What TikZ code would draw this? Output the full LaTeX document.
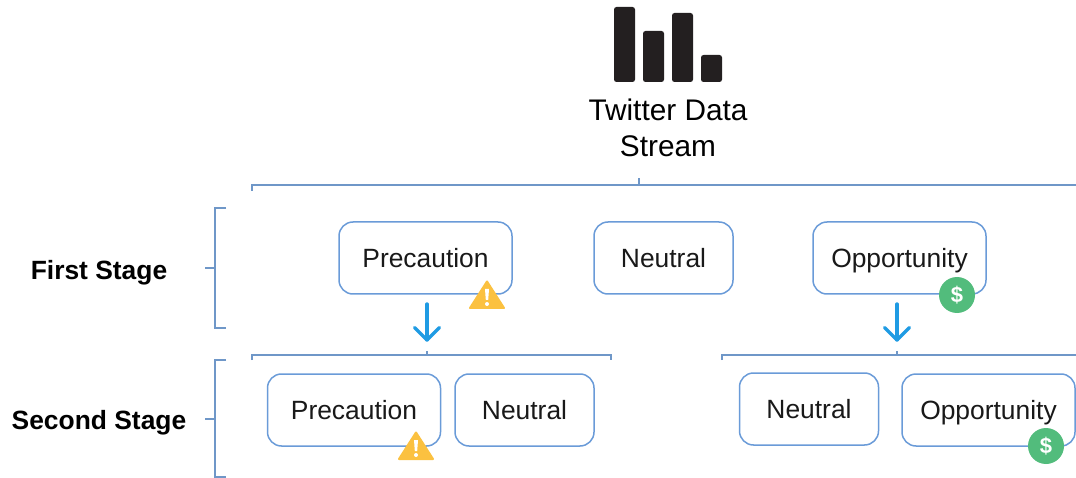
\documentclass[tikz,border=0pt]{standalone}
\usepackage{fontspec}
\setmainfont{Liberation Sans}
\usetikzlibrary{calc}
\definecolor{boxblue}{HTML}{6A9BD8}
\definecolor{linblue}{HTML}{6F97C8}
\definecolor{arrowblue}{HTML}{1F9BE3}
\definecolor{warn}{HTML}{FBC140}
\definecolor{money}{HTML}{52BC7C}
\definecolor{barblack}{HTML}{231F20}
\tikzset{
  stagebox/.style={draw=boxblue,line width=1.5pt,rounded corners=14pt,fill=white,inner sep=0pt,
    minimum height=72pt,text height=19pt,text depth=0pt,font=\fontsize{26.4}{30}\selectfont,text=black!90},
  widebox/.style={stagebox,minimum width=173pt},
  narrowbox/.style={stagebox,minimum width=139pt},
  stagelabel/.style={font=\fontsize{26.4}{30}\selectfont\bfseries,text=black,inner sep=0pt},
  bracketline/.style={draw=linblue,line width=1.5pt},
  downarrow/.style={draw=arrowblue,line width=3.4pt,line cap=round,line join=round},
  bar/.style={fill=barblack,rounded corners=2.5pt},
  warnshape/.style={fill=warn,draw=warn,line width=2pt,line join=round},
  moneydisc/.style={circle,fill=money,minimum size=36pt,inner sep=0pt,text=white,
    font=\fontsize{22}{22}\selectfont\bfseries},
}
\newcommand{\warnicon}[2]{%
  \begin{scope}[shift={(#1,#2)}]
    \path[warnshape] (0,-13.5) -- (17,13) -- (-17,13) -- cycle;
    \fill[white] (-2,-6) -- (2,-6) -- (1.2,5) -- (-1.2,5) -- cycle;
    \fill[white] (0,9) circle (2);
  \end{scope}}
\begin{document}
\begin{tikzpicture}[x=1pt,y=-1pt]
\useasboundingbox (0,0) rectangle (1076,478);
% chart icon
\path[bar] (614,7) rectangle (635,82);
\path[bar] (643,31) rectangle (664,82);
\path[bar] (672,13) rectangle (693,82);
\path[bar] (701,55) rectangle (722,82);
\node[align=center,inner sep=0pt,font=\fontsize{29.8}{36}\selectfont,text=black] (title) at (668,127.5) {Twitter Data\\Stream};
% anchor coordinates
\coordinate (topL) at (252,185); \coordinate (topR) at (1076,185); \coordinate (topC) at (639,185);
\coordinate (lowL) at (252,355); \coordinate (lowM) at (611,355); \coordinate (lowC) at (427,355);
\coordinate (rowL) at (722,355); \coordinate (rowR) at (1076,355); \coordinate (rowC) at (897,355);
% top bracket
\draw[bracketline] ($(topL)+(0,6)$) -- (topL) -- (topR);
\draw[bracketline] (topC) -- ++(0,-7);
% second-stage brackets
\draw[bracketline] ($(lowL)+(0,5)$) -- (lowL) -- (lowM) -- ++(0,5);
\draw[bracketline] (lowC) -- ++(0,-4);
\draw[bracketline] ($(rowL)+(0,5)$) -- (rowL) -- (rowR);
\draw[bracketline] (rowC) -- ++(0,-4);
% stage brackets
\coordinate (sa) at (215,208); \coordinate (sb) at (215,328); \coordinate (sm) at (215,268);
\coordinate (sc) at (215,360); \coordinate (sd) at (215,477); \coordinate (sn) at (215,419);
\draw[bracketline] ($(sa)+(11,0)$) -- (sa) -- (sb) -- ++(11,0);
\draw[bracketline] (sm) -- ++(-10,0);
\draw[bracketline] ($(sc)+(11,0)$) -- (sc) -- (sd) -- ++(11,0);
\draw[bracketline] (sn) -- ++(-10,0);
\node[stagelabel] (first) at (99,272.5) {First Stage};
\node[stagelabel] (second) at (99,422.5) {Second Stage};
% first row
\node[widebox] (p1) at (425.5,258) {Precaution};
\node[narrowbox] (n1) at (663.5,258) {Neutral};
\node[widebox] (o1) at (899.5,258) {Opportunity};
% second row
\node[widebox] (p2) at (354,410) {Precaution};
\node[narrowbox] (n2) at (524.5,410) {Neutral};
\node[narrowbox] (n3) at (809,409) {Neutral};
\node[widebox] (o2) at (988.5,410) {Opportunity};
% arrows
\coordinate (a1s) at (427,304); \coordinate (a1e) at (427,340);
\coordinate (a2s) at (897,304); \coordinate (a2e) at (897,340);
\draw[downarrow] (a1s) -- (a1e);
\draw[downarrow] ($(a1e)+(-12.5,-12.5)$) -- (a1e) -- ($(a1e)+(12.5,-12.5)$);
\draw[downarrow] (a2s) -- (a2e);
\draw[downarrow] ($(a2e)+(-12.5,-12.5)$) -- (a2e) -- ($(a2e)+(12.5,-12.5)$);
% icons
\warnicon{487}{295}
\warnicon{416}{446}
\node[moneydisc] (m1) at (957,295) {\$};
\node[moneydisc] (m2) at (1046,446) {\$};
\end{tikzpicture}
\end{document}
